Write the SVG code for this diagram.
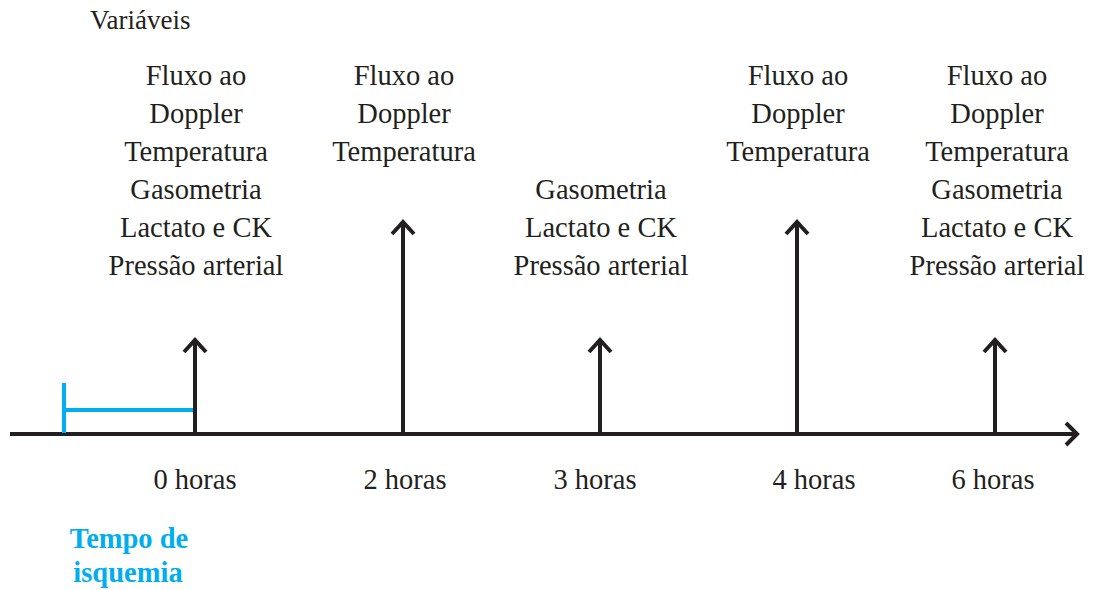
<svg xmlns="http://www.w3.org/2000/svg" width="1099" height="590" viewBox="0 0 1099 590">
<style>
.t{font-family:'Liberation Serif',Tinos,'Times New Roman',serif;font-size:28.5px;font-weight:normal;fill:#231f20;text-anchor:middle}
.ax{stroke:#231f20;stroke-width:4;fill:none}
.hd{stroke:#231f20;stroke-width:4;fill:none;stroke-linecap:butt;stroke-linejoin:miter}
.cy{stroke:#00aeef;stroke-width:4;fill:none}
.b{font-family:'Liberation Serif',Tinos,'Times New Roman',serif;font-size:28.5px;font-weight:bold;fill:#00aeef;text-anchor:middle}
</style>
<rect width="1099" height="590" fill="#fff"/>
<text class="t" x="90" y="29" text-anchor="start" style="text-anchor:start;font-size:27px">Variáveis</text>
<g id="connectors">
<line class="ax" x1="10" y1="434" x2="1076" y2="434"/>
<polyline class="hd" points="1066,423 1077,434 1066,445"/>
<line class="cy" x1="64" y1="383" x2="64" y2="433"/>
<line class="cy" x1="64" y1="410" x2="194" y2="410"/>
<line class="ax" x1="195" y1="434" x2="195" y2="340"/>
<polyline class="hd" points="184,352 195,340 206,352"/>
<line class="ax" x1="403" y1="434" x2="403" y2="222"/>
<polyline class="hd" points="392,234 403,222 414,234"/>
<line class="ax" x1="600" y1="434" x2="600" y2="340"/>
<polyline class="hd" points="589,352 600,340 611,352"/>
<line class="ax" x1="797" y1="434" x2="797" y2="222"/>
<polyline class="hd" points="786,234 797,222 808,234"/>
<line class="ax" x1="995" y1="434" x2="995" y2="340"/>
<polyline class="hd" points="984,352 995,340 1006,352"/>
</g>
<g id="t0">
<text class="t" x="196" y="85">Fluxo ao</text>
<text class="t" x="196" y="123">Doppler</text>
<text class="t" x="196" y="161">Temperatura</text>
<text class="t" x="196" y="199">Gasometria</text>
<text class="t" x="196" y="237">Lactato e CK</text>
<text class="t" x="196" y="275">Pressão arterial</text>
<text class="t" x="195" y="489">0 horas</text>
</g>
<g id="t2">
<text class="t" x="404" y="85">Fluxo ao</text>
<text class="t" x="404" y="123">Doppler</text>
<text class="t" x="404" y="161">Temperatura</text>
<text class="t" x="405" y="489">2 horas</text>
</g>
<g id="t3">
<text class="t" x="601" y="199">Gasometria</text>
<text class="t" x="601" y="237">Lactato e CK</text>
<text class="t" x="601" y="275">Pressão arterial</text>
<text class="t" x="595" y="489">3 horas</text>
</g>
<g id="t4">
<text class="t" x="798" y="85">Fluxo ao</text>
<text class="t" x="798" y="123">Doppler</text>
<text class="t" x="798" y="161">Temperatura</text>
<text class="t" x="814" y="489">4 horas</text>
</g>
<g id="t6">
<text class="t" x="997" y="85">Fluxo ao</text>
<text class="t" x="997" y="123">Doppler</text>
<text class="t" x="997" y="161">Temperatura</text>
<text class="t" x="997" y="199">Gasometria</text>
<text class="t" x="997" y="237">Lactato e CK</text>
<text class="t" x="997" y="275">Pressão arterial</text>
<text class="t" x="993" y="489">6 horas</text>
</g>
<g id="isq">
<text class="b" x="129" y="548">Tempo de</text>
<text class="b" x="128" y="582">isquemia</text>
</g>
</svg>
